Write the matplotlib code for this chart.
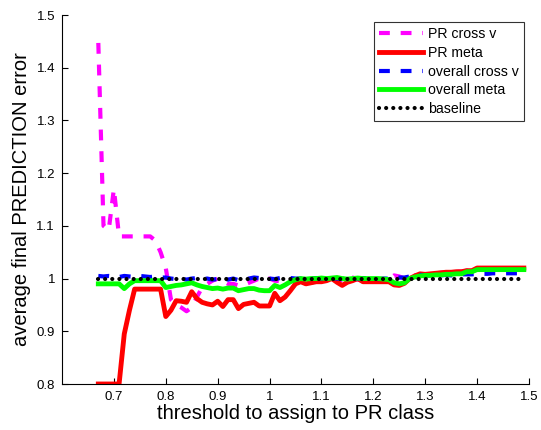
import matplotlib
matplotlib.use("Agg")
import matplotlib.pyplot as plt
import numpy as np

plt.rcParams['font.family'] = ['Liberation Sans', 'DejaVu Sans']

# threshold grid (0.67 .. 1.49, step 0.01)
threshold = np.round(np.arange(0.67, 1.495, 0.01), 2)

pr_cross_v = [
    1.447, 1.100, 1.092, 1.170, 1.080, 1.080, 1.080, 1.080, 1.080, 1.080,
    1.080, 1.072, 1.050, 1.020, 0.960, 0.950, 0.945, 0.938, 0.945, 0.965,
    0.983, 0.990, 0.996, 1.000, 0.995, 0.990, 0.990, 0.987, 0.988, 0.992,
    0.996, 1.000, 0.998, 1.000, 0.996, 0.995, 0.993, 0.995, 0.996, 0.994,
    0.990, 0.992, 0.995, 0.997, 0.998, 1.000, 0.996, 0.998, 1.000, 1.002,
    0.998, 0.997, 0.998, 0.999, 0.997, 0.996, 0.998, 1.006, 1.004, 1.000,
    1.004, 1.006, 1.007, 1.008, 1.009, 1.010, 1.011, 1.012, 1.012, 1.013,
    1.013, 1.015, 1.015, 1.018, 1.018, 1.018, 1.018, 1.018, 1.018, 1.018,
    1.018, 1.018, 1.018,
]

pr_meta = [
    0.800, 0.800, 0.800, 0.800, 0.800, 0.895, 0.940, 0.980, 0.980, 0.980,
    0.980, 0.980, 0.980, 0.928, 0.940, 0.958, 0.957, 0.955, 0.975, 0.962,
    0.955, 0.952, 0.950, 0.957, 0.947, 0.960, 0.960, 0.943, 0.951, 0.953,
    0.955, 0.948, 0.948, 0.948, 0.972, 0.958, 0.965, 0.977, 0.990, 0.994,
    0.990, 0.992, 0.994, 0.994, 0.996, 1.000, 0.993, 0.987, 0.993, 0.996,
    1.000, 0.994, 0.994, 0.994, 0.994, 0.994, 0.994, 0.988, 0.987, 0.991,
    1.000, 1.005, 1.009, 1.008, 1.009, 1.010, 1.011, 1.012, 1.012, 1.013,
    1.013, 1.015, 1.015, 1.020, 1.020, 1.020, 1.020, 1.020, 1.020, 1.020,
    1.020, 1.020, 1.020,
]

overall_cross_v = [
    1.005, 1.004, 1.005, 1.004, 1.003, 1.005, 1.004, 1.003, 1.005, 1.004,
    1.003, 1.004, 1.002, 1.002, 1.000, 0.999, 1.000, 0.998, 1.000, 1.001,
    0.999, 1.000, 0.998, 0.999, 1.001, 0.998, 1.000, 0.997, 0.999, 1.000,
    1.002, 1.001, 1.003, 1.000, 0.999, 1.001, 1.000, 1.001, 1.000, 1.000,
    0.999, 1.000, 1.001, 1.000, 1.000, 1.001, 1.000, 0.999, 1.001, 1.000,
    1.000, 1.001, 1.000, 1.000, 0.999, 1.000, 1.000, 1.003, 1.002, 1.002,
    1.004, 1.005, 1.007, 1.006, 1.006, 1.005, 1.006, 1.007, 1.006, 1.007,
    1.008, 1.008, 1.008, 1.009, 1.009, 1.009, 1.010, 1.010, 1.010, 1.010,
    1.010, 1.010, 1.010,
]

overall_meta = [
    0.990, 0.990, 0.990, 0.990, 0.990, 0.981, 0.990, 0.996, 0.996, 0.996,
    0.996, 0.996, 0.996, 0.983, 0.985, 0.987, 0.988, 0.990, 0.992, 0.988,
    0.985, 0.983, 0.981, 0.982, 0.980, 0.982, 0.982, 0.977, 0.979, 0.981,
    0.981, 0.978, 0.977, 0.977, 0.987, 0.983, 0.988, 0.994, 0.998, 1.000,
    0.999, 1.000, 1.000, 1.001, 1.000, 1.001, 1.002, 1.000, 0.999, 1.000,
    1.001, 1.000, 1.000, 1.000, 1.000, 0.999, 0.998, 0.992, 0.990, 0.992,
    1.000, 1.003, 1.005, 1.006, 1.006, 1.007, 1.007, 1.008, 1.008, 1.009,
    1.009, 1.013, 1.013, 1.017, 1.017, 1.017, 1.017, 1.017, 1.017, 1.017,
    1.017, 1.017, 1.017,
]

baseline = [1.0] * len(threshold)

xticks = [0.7, 0.8, 0.9, 1.0, 1.1, 1.2, 1.3, 1.4, 1.5]
xticklabels = ['0.7', '0.8', '0.9', '1', '1.1', '1.2', '1.3', '1.4', '1.5']
yticks = [0.8, 0.9, 1.0, 1.1, 1.2, 1.3, 1.4, 1.5]
yticklabels = ['0.8', '0.9', '1', '1.1', '1.2', '1.3', '1.4', '1.5']

fig = plt.figure(figsize=(5.41, 4.30), dpi=100)
ax = fig.add_axes([62 / 541, 1 - 384 / 430, (529 - 62) / 541, (384 - 15) / 430])

ax.plot(threshold, pr_cross_v, color='#ff00ff', linestyle='--', linewidth=3,
        dashes=(2.6, 2.6), label='PR cross v')
ax.plot(threshold, pr_meta, color='#ff0000', linewidth=3.5, label='PR meta')
ax.plot(threshold, overall_cross_v, color='#0000ff', linestyle='--', linewidth=3,
        dashes=(2.6, 2.6), label='overall cross v')
ax.plot(threshold, overall_meta, color='#00ff00', linewidth=3.5, label='overall meta')
ax.plot(threshold, baseline, color='black', linestyle=(0, (0.01, 1.7)), linewidth=3,
        dash_capstyle='round', label='baseline')

ax.set_xlim(0.6, 1.5)
ax.set_ylim(0.8, 1.5)
ax.set_xticks(xticks)
ax.set_xticklabels(xticklabels)
ax.set_yticks(yticks)
ax.set_yticklabels(yticklabels)
ax.tick_params(direction='in', length=4, labelsize=9.5, width=0.8, pad=5)
ax.spines['top'].set_visible(False)
ax.spines['right'].set_visible(False)

ax.set_xlabel('threshold to assign to PR class', fontsize=14.5, labelpad=1)
ax.set_ylabel('average final PREDICTION error', fontsize=14.5, labelpad=4)

leg = ax.legend(loc='upper right', bbox_to_anchor=(0.99, 0.98), fontsize=10.2,
                frameon=True, fancybox=False, handlelength=3.1, borderpad=0.35,
                labelspacing=0.33, handletextpad=0.4, borderaxespad=0.0)
leg.get_frame().set_edgecolor('black')
leg.get_frame().set_linewidth(0.8)

fig.savefig('out.png', dpi=100)
